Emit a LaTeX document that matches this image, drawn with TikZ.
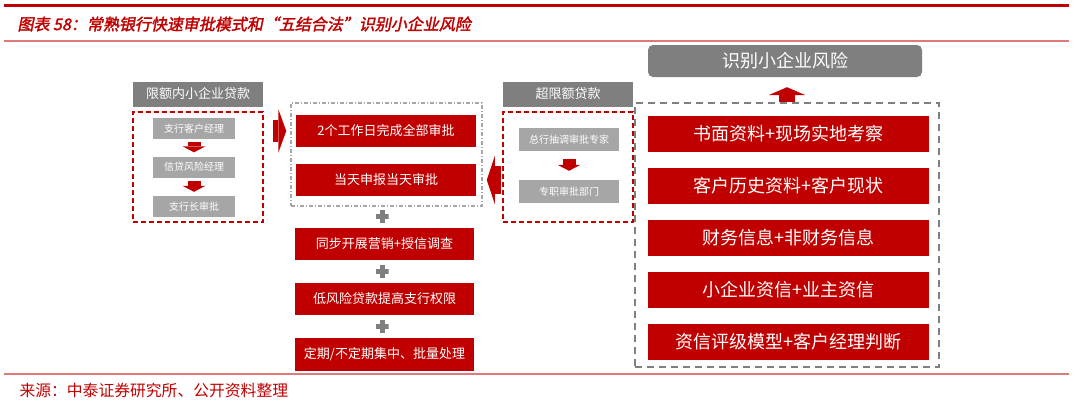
\documentclass[tikz,border=0pt]{standalone}
\usepackage{fontspec}
\setmainfont{Noto Sans CJK SC}
\newfontfamily\titlefont[FakeSlant=0.2,FakeBold=2]{Noto Sans CJK SC}
\usetikzlibrary{arrows.meta}
\definecolor{zred}{HTML}{C00000}
\definecolor{zgray}{HTML}{7F7F7F}
\definecolor{zlight}{HTML}{A6A6A6}
\definecolor{zline}{HTML}{E07A7A}
\tikzset{
  head/.style={fill=zgray,text=white,minimum width=130pt,minimum height=25pt,inner sep=0pt,font=\fontsize{13}{15}\selectfont},
  stepbox/.style={fill=zlight,text=white,inner sep=0pt,font=\fontsize{10}{12}\selectfont},
  redbox/.style={fill=zred,text=white,minimum width=180pt,minimum height=32pt,inner sep=0pt,font=\fontsize{13}{15}\selectfont},
  riskbox/.style={fill=zred,text=white,minimum width=281pt,minimum height=36pt,inner sep=0pt,font=\fontsize{18}{20}\selectfont},
  redframe/.style={draw=zred,line width=1.5pt,dash pattern=on 5pt off 3pt,minimum width=130pt,minimum height=110pt,inner sep=0pt},
  plusmark/.style={minimum size=13pt,inner sep=0pt,path picture={
    \fill[zgray] ([xshift=-2.5pt]path picture bounding box.north) rectangle ([xshift=2.5pt]path picture bounding box.south);
    \fill[zgray] ([yshift=-2.5pt]path picture bounding box.west) rectangle ([yshift=2.5pt]path picture bounding box.east);}},
  tinyarrow/.style={draw=zred,line width=13pt,-{Triangle[width=23pt,length=6pt,line width=0pt]}},
  bigarrow/.style={draw=zred,-{Triangle[width=#1,length=8pt,line width=0pt]}}
}
\begin{document}
\begin{tikzpicture}[x=1pt,y=-1pt]
\useasboundingbox (0,0) rectangle (1080,407);
\draw[zred,line width=3pt] (4,5.5) -- (1069,5.5);
\draw[zline,line width=1.2pt] (4,41) -- (1069,41);
\draw[zline,line width=1.2pt] (4,374) -- (1069,374);
\path node[anchor=west,text=zred,font=\titlefont\fontsize{16}{19}\selectfont] (title) at (14,24) {图表 58：常熟银行快速审批模式和“五结合法”识别小企业风险}
node[anchor=west,text=zred,font=\fontsize{15.8}{17}\selectfont] (source) at (16,390) {来源：中泰证券研究所、公开资料整理}
node[head] (hdA) at (198,94) {限额内小企业贷款}
node[redframe] (frameA) at (198,167) {}
node[stepbox,minimum width=82pt,minimum height=21pt] (stepA1) at (194,128.5) {支行客户经理}
node[stepbox,minimum width=82pt,minimum height=21pt] (stepA2) at (194,167) {信贷风险经理}
node[stepbox,minimum width=82pt,minimum height=21pt] (stepA3) at (194,206.5) {支行长审批}
node[head] (hdB) at (568,94) {超限额贷款}
node[redframe] (frameB) at (568,167) {}
node[stepbox,minimum width=100pt,minimum height=23pt] (stepB1) at (569,139.5) {总行抽调审批专家}
node[stepbox,minimum width=100pt,minimum height=23pt] (stepB2) at (569,191.5) {专职审批部门}
node[draw=zlight,line width=1.5pt,dash pattern=on 4pt off 2pt on 1pt off 2pt,minimum width=191pt,minimum height=103pt] (frameM) at (386.5,154.5) {}
node[redbox] (redM1) at (386,131) {2个工作日完成全部审批}
node[redbox] (redM2) at (386,180) {当天申报当天审批}
node[plusmark] (plusA) at (382,216) {}
node[redbox,minimum width=179pt] (redM3) at (384.5,244) {同步开展营销+授信调查}
node[plusmark] (plusB) at (382,271.5) {}
node[redbox,minimum width=179pt] (redM4) at (384.5,299) {低风险贷款提高支行权限}
node[plusmark] (plusC) at (382,326.5) {}
node[redbox,minimum width=179pt,minimum height=33pt] (redM5) at (384.5,354.5) {定期/不定期集中、批量处理}
node[fill=zgray,text=white,rounded corners=5pt,minimum width=274pt,minimum height=32pt,font=\fontsize{18}{20}\selectfont] (riskHead) at (785,61) {识别小企业风险}
node[draw=zgray,line width=2pt,dash pattern=on 7pt off 5pt,minimum width=304pt,minimum height=264pt] (frameR) at (787,235) {}
node[riskbox] (risk1) at (788.5,134) {书面资料+现场实地考察}
node[riskbox] (risk2) at (788.5,186) {客户历史资料+客户现状}
node[riskbox] (risk3) at (788.5,238) {财务信息+非财务信息}
node[riskbox] (risk4) at (788.5,290) {小企业资信+业主资信}
node[riskbox] (risk5) at (788.5,342) {资信评级模型+客户经理判断}
;
\draw[tinyarrow,shorten <=3pt,shorten >=4pt] (stepA1) -- (stepA2);
\draw[tinyarrow,shorten <=3pt,shorten >=4pt] (stepA2) -- (stepA3);
\draw[tinyarrow,shorten <=8pt,shorten >=9pt] (stepB1) -- (stepB2);
\draw[bigarrow=44pt,line width=22pt,shorten <=9pt,shorten >=4pt] (frameA.east |- redM1) -- (frameM.west |- redM1);
\draw[bigarrow=48pt,line width=28pt,shorten <=1pt,shorten >=4pt] (frameB.west |- redM2) -- (frameM.east |- redM2);
\draw[bigarrow=37pt,line width=16pt,shorten >=10pt] (frameR.north) -- (frameR.north |- riskHead.south);
\end{tikzpicture}
\end{document}
